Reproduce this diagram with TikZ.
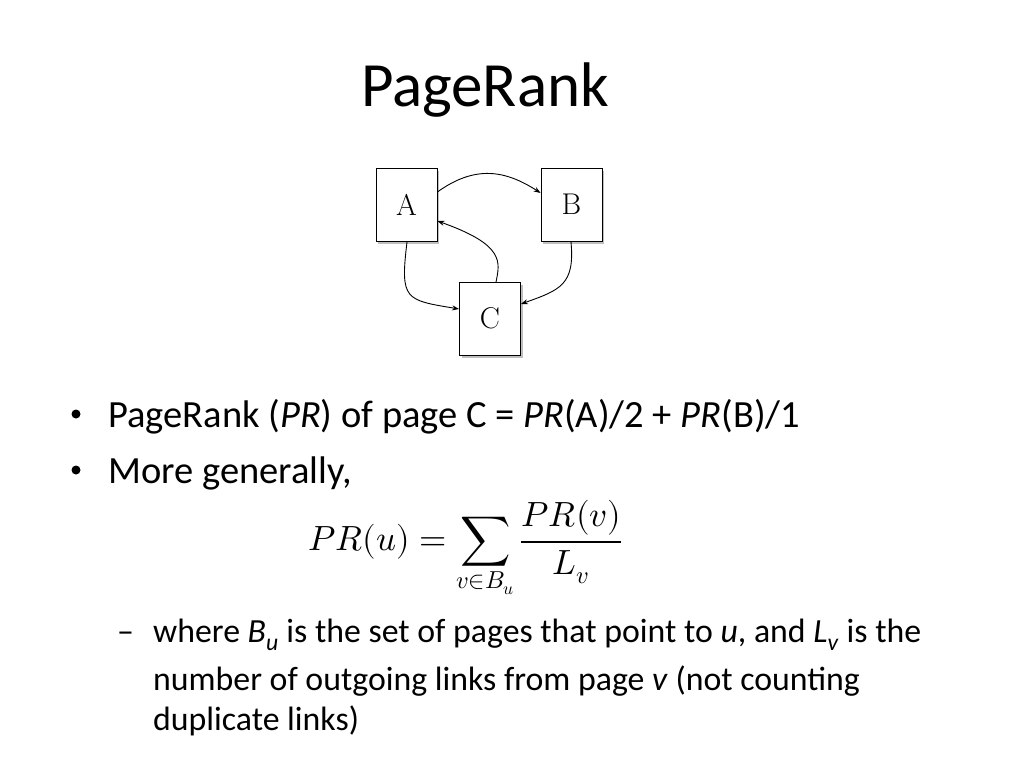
\documentclass[tikz,border=0pt]{standalone}
\usepackage{fontspec}
\setmainfont{Carlito}
\usepackage{unicode-math}
\setmathfont{Latin Modern Math}
\usetikzlibrary{arrows.meta,shadows}
\begin{document}
\begin{tikzpicture}[x=1pt,y=-1pt,
  box/.style={draw=black,fill=white,line width=0.8pt,minimum width=61pt,minimum height=73pt,inner sep=0pt,font=\fontsize{30}{30}\selectfont\rmfamily,drop shadow={shadow xshift=2pt,shadow yshift=-3pt,opacity=0.5}},
  edge/.style={draw,line width=0.9pt,-{Stealth[length=7pt,width=5pt]}},
  txt/.style={anchor=base west,inner sep=0pt,font=\fontsize{38.5}{38.5}\selectfont},
  sub/.style={anchor=base west,inner sep=0pt,font=\fontsize{33.8}{33.8}\selectfont}]
\useasboundingbox (0,0) rectangle (1024,768);
\node[anchor=base,inner sep=0pt,font=\fontsize{63}{63}\selectfont] (title) at (485,106) {PageRank};
\node[box] (A) at (406.5,204.5) {\fontspec{Latin Modern Roman}A};
\node[box] (B) at (571.5,204.5) {\fontspec{Latin Modern Roman}B};
\node[box] (C) at (490,318.5) {\fontspec{Latin Modern Roman}C};
\draw[edge] (A.east|-0,192) .. controls (475,165) and (505,170) .. (B.west|-0,193);
\draw[edge] (496,282) .. controls (500,262) and (505,245) .. (A.east|-0,221);
\draw[edge] (407,242) .. controls (400,300) and (405,300) .. (C.west|-0,309);
\draw[edge] (571,242) .. controls (575,285) and (560,290) .. (C.east|-0,304);
\node[circle,fill=black,inner sep=0pt,minimum size=9pt] (d1) at (76,414) {};
\node[txt] (l1) at (108,427) {PageRank (\textit{PR}) of page C = \textit{PR}(A)/2 + \textit{PR}(B)/1};
\node[circle,fill=black,inner sep=0pt,minimum size=9pt] (d2) at (76,470) {};
\node[txt] (l2) at (108,483) {More generally,};
\node[anchor=center,inner sep=0pt,font=\fontsize{35}{35}\selectfont] (f) at (465,550) {$PR(u)=\displaystyle\sum_{v\in B_u}\frac{PR(v)}{L_v}$};
\node[sub] (d3) at (117,642) {–};
\node[sub] (s1) at (153,642) {where \textit{B}\textsubscript{\textit{u}} is the set of pages that point to \textit{u}, and \textit{L}\textsubscript{\textit{v}} is the};
\node[sub] (s2) at (153,690) {number of outgoing links from page \textit{v} (not counting};
\node[sub] (s3) at (153,730) {duplicate links)};
\end{tikzpicture}
\end{document}
